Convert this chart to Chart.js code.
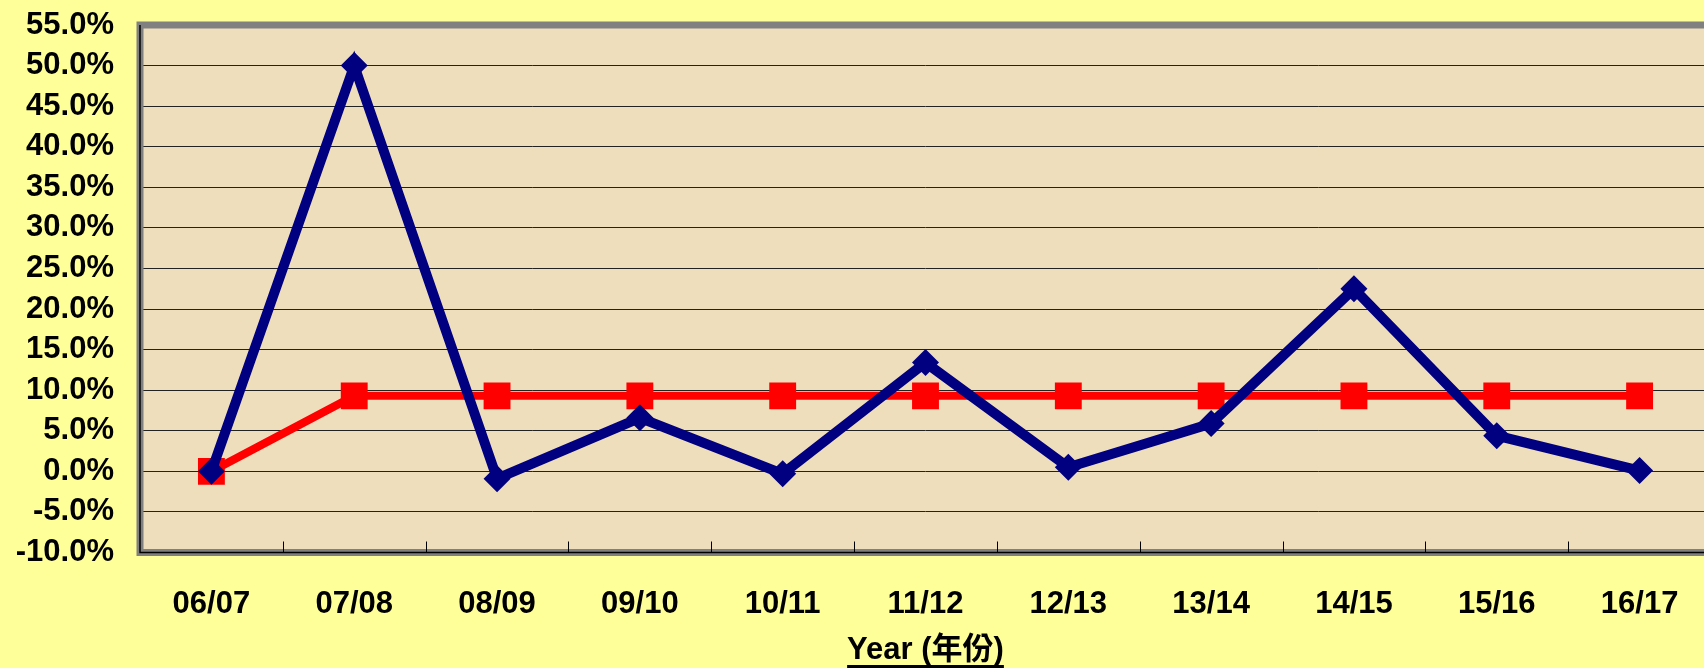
<!DOCTYPE html>
<html>
<head>
<meta charset="utf-8">
<script src="https://cdn.jsdelivr.net/npm/chart.js@4"></script>
<style>
    html, body { margin: 0; padding: 0; background: #FFFF99; overflow: hidden; }
    #wrap { width: 1730px; height: 668px; }
</style>
</head>
<body>
<div id="wrap"><canvas id="myChart" width="1730" height="668"></canvas></div>
<script>
const years = ['06/07', '07/08', '08/09', '09/10', '10/11', '11/12', '12/13', '13/14', '14/15', '15/16', '16/17'];
const actualRate = [0.0, 50.0, -0.9, 6.6, -0.3, 13.4, 0.5, 5.9, 22.5, 4.4, 0.1];
const targetRate = [0.0, 9.3, 9.3, 9.3, 9.3, 9.3, 9.3, 9.3, 9.3, 9.3, 9.3];
const yTicks = { min: -10, max: 55, step: 5 };
const xTitle = 'Year (年份)';

const fontFamily = '"Liberation Sans", Arial, "Noto Sans CJK TC", sans-serif';

// page + plot background, gray plot frame, small category ticks, underline of the title
const framePlugin = {
    id: 'frame',
    beforeDraw(chart) {
        const ctx = chart.ctx;
        const a = chart.chartArea;
        ctx.save();
        ctx.fillStyle = '#FFFF99';
        ctx.fillRect(0, 0, chart.width, chart.height);
        ctx.fillStyle = '#EFDEBB';
        ctx.fillRect(a.left, a.top, a.right - a.left, a.bottom - a.top);
        ctx.restore();
    },
    beforeDatasetsDraw(chart) {
        const ctx = chart.ctx;
        const a = chart.chartArea;
        const xs = chart.scales.x;
        ctx.save();
        ctx.strokeStyle = '#808080';
        ctx.lineWidth = 7;
        ctx.strokeRect(a.left, a.top, a.right - a.left, a.bottom - a.top);
        ctx.strokeStyle = '#000000';
        ctx.lineWidth = 1.5;
        ctx.beginPath();
        ctx.moveTo(a.left, a.top);
        ctx.lineTo(a.left, a.bottom);
        ctx.lineTo(a.right, a.bottom);
        ctx.stroke();
        ctx.lineWidth = 1;
        ctx.beginPath();
        for (let i = 1; i < years.length; i++) {
            const x = Math.round((xs.getPixelForTick(i - 1) + xs.getPixelForTick(i)) / 2) + 0.5;
            ctx.moveTo(x, a.bottom - 11);
            ctx.lineTo(x, a.bottom);
        }
        ctx.stroke();
        ctx.restore();
    },
    afterDraw(chart) {
        const ctx = chart.ctx;
        const xs = chart.scales.x;
        ctx.save();
        ctx.font = 'bold 31px ' + fontFamily;
        const w = ctx.measureText(xTitle).width;
        const cx = (xs.left + xs.right) / 2;
        ctx.fillStyle = '#000000';
        ctx.fillRect(cx - w / 2, 665, w, 3);
        ctx.restore();
    }
};

const ctx = document.getElementById('myChart').getContext('2d');
const chart = new Chart(ctx, {
    type: 'line',
    data: {
        labels: years,
        datasets: [
            {
                label: 'Actual',
                data: actualRate,
                borderColor: '#000080',
                backgroundColor: '#000080',
                borderWidth: 10,
                pointStyle: 'rectRot',
                pointRadius: 13.5,
                pointBorderWidth: 0,
                fill: false,
                tension: 0,
            },
            {
                label: 'Target',
                data: targetRate,
                borderColor: '#FF0000',
                backgroundColor: '#FF0000',
                borderWidth: 8,
                pointStyle: 'rect',
                pointRadius: 19,
                pointBorderWidth: 0,
                fill: false,
                tension: 0,
            },
        ],
    },
    options: {
        responsive: false,
        animation: false,
        devicePixelRatio: 1,
        layout: { padding: { top: 25, right: 12, bottom: 0, left: 0 } },
        plugins: {
            legend: { display: false },
            tooltip: { enabled: false },
        },
        scales: {
            x: {
                type: 'category',
                offset: true,
                grid: { display: false },
                border: { display: false },
                ticks: {
                    color: '#000000',
                    font: { family: fontFamily, size: 31, weight: 'bold' },
                    padding: 25,
                    maxRotation: 0,
                    autoSkip: false,
                },
                title: {
                    display: true,
                    text: xTitle,
                    color: '#000000',
                    font: { family: fontFamily, size: 31, weight: 'bold', lineHeight: 1.1 },
                    padding: { top: 0, bottom: 0 },
                },
                afterFit: function (scale) {
                    scale.height = 115.5;
                    scale.paddingLeft = 0;
                    scale.paddingRight = 0;
                },
            },
            y: {
                min: yTicks.min,
                max: yTicks.max,
                border: { display: false },
                grid: {
                    drawTicks: false,
                    lineWidth: 1,
                    color: function (c) {
                        const v = c.tick ? c.tick.value : 0;
                        return (v === yTicks.min || v === yTicks.max) ? 'rgba(0,0,0,0)' : '#222222';
                    },
                },
                ticks: {
                    stepSize: yTicks.step,
                    autoSkip: false,
                    color: '#000000',
                    font: { family: fontFamily, size: 31, weight: 'bold' },
                    padding: 26,
                    callback: function (value) {
                        return value.toFixed(1) + '%';
                    },
                },
                afterFit: function (scale) {
                    scale.width = 140;
                    scale.paddingTop = 0;
                    scale.paddingBottom = 0;
                },
            },
        },
    },
    plugins: [framePlugin],
});
</script>
</body>
</html>
